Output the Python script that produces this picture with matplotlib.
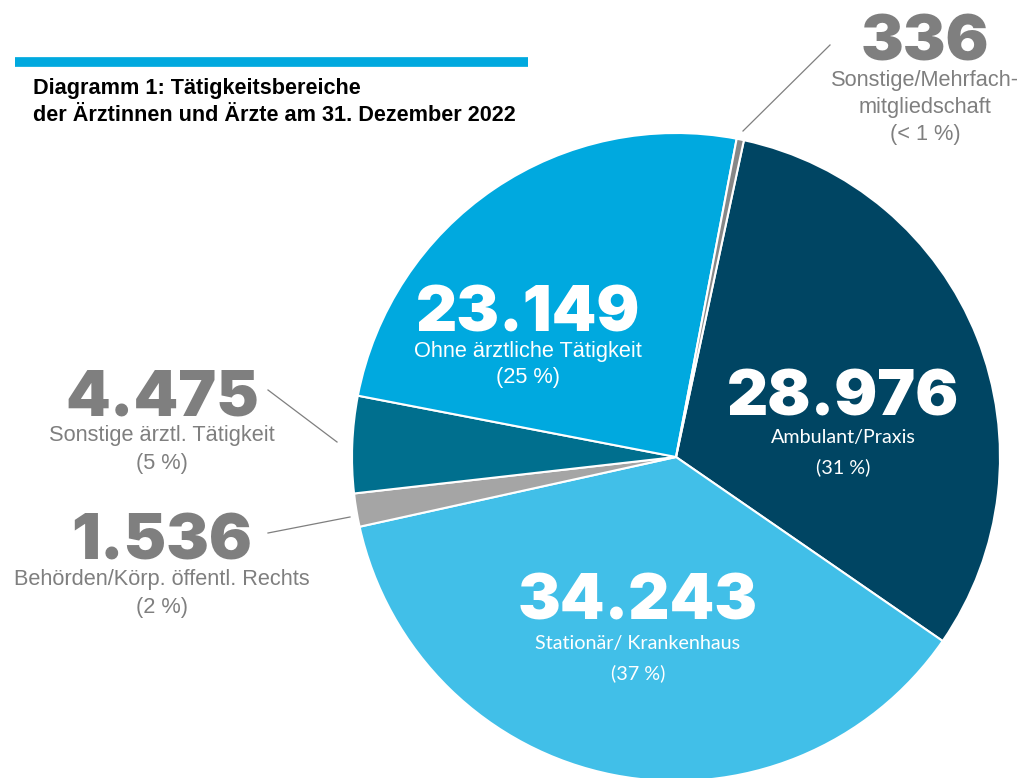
import matplotlib
matplotlib.use("Agg")
import matplotlib.pyplot as plt

# ---- data ----
categories = ["Ambulant/Praxis", "Stationär/ Krankenhaus", "Behörden/Körp. öffentl. Rechts",
              "Sonstige ärztl. Tätigkeit", "Ohne ärztliche Tätigkeit", "Sonstige/Mehrfach-\nmitgliedschaft"]
values = [28976, 34243, 1536, 4475, 23149, 336]
value_labels = ["28.976", "34.243", "1.536", "4.475", "23.149", "336"]
pct_labels = ["(31 %)", "(37 %)", "(2 %)", "(5 %)", "(25 %)", "(< 1 %)"]
colors = ["#004563", "#41bfe8", "#a5a5a5", "#006f8e", "#00a9df", "#878787"]
title_lines = ["Diagramm 1: Tätigkeitsbereiche", "der Ärztinnen und Ärzte am 31. Dezember 2022"]

W, H = 1020, 778
fig = plt.figure(figsize=(W / 100, H / 100), dpi=100)
ax = fig.add_axes([0, 0, 1, 1])

def Y(y):
    return H - y

ax.pie(values, colors=colors, startangle=77.9, counterclock=False,
       center=(676, Y(457)), radius=324,
       wedgeprops=dict(edgecolor="white", linewidth=1.5))
ax.set_xlim(0, W)
ax.set_ylim(0, H)
ax.set_aspect("equal")
ax.axis("off")

FONT = "Liberation Sans"
BIG = ["Inter", "Liberation Sans"]
GRAY = "#7f7f7f"

# header bar and title
ax.plot([15, 528], [Y(62), Y(62)], color="#00a9df", lw=7, solid_capstyle="butt")
ax.text(33, Y(88), title_lines[0], fontsize=15.6, fontweight="bold", family=FONT,
        ha="left", va="center", color="black")
ax.text(33, Y(115), title_lines[1], fontsize=15.6, fontweight="bold", family=FONT,
        ha="left", va="center", color="black")

def block(x, ybase, idx, color, ylines, lab_font=FONT, lab_size=15.7):
    ax.text(x, Y(ybase), value_labels[idx], fontsize=46, fontweight=900, family=BIG,
            ha="center", va="baseline", color=color)
    lines = categories[idx].split("\n") + [pct_labels[idx]]
    for t, yy in zip(lines, ylines):
        ax.text(x, Y(yy), t, fontsize=lab_size, family=lab_font,
                ha="center", va="center", color=color)

# inside labels
block(843, 415, 0, "white", [438, 467], lab_font="Lato", lab_size=14.2)
block(638, 619, 1, "white", [643, 673], lab_font="Lato", lab_size=14.2)
block(528, 332, 4, "white", [352, 378])

# outside labels
block(162, 415, 3, GRAY, [436, 463])
block(162, 560, 2, GRAY, [580, 607])
block(925, 60, 5, GRAY, [80, 107, 134])

# leader lines
ax.plot([830, 743], [Y(45), Y(131)], color=GRAY, lw=0.9)
ax.plot([268, 337], [Y(390), Y(442)], color=GRAY, lw=0.9)
ax.plot([268, 350], [Y(533), Y(517)], color=GRAY, lw=0.9)

fig.savefig("out.png", dpi=100)
